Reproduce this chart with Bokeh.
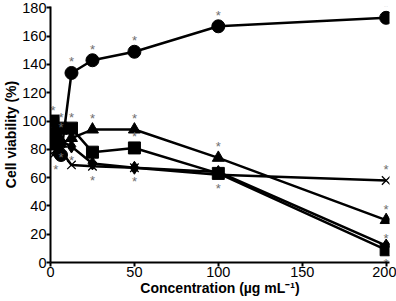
from bokeh.plotting import figure
from bokeh.models import Range1d, FixedTicker
from bokeh.embed import file_html
from bokeh.resources import INLINE
from bokeh.core.properties import value

conc = [1.56, 3.125, 6.25, 12.5, 25, 50, 100, 200]
circle_v = [88, 84, 76, 134, 143, 149, 167, 173]
triangle_v = [86, 82, 84, 88, 94, 94, 74, 30]
square_v = [100, 91, 95, 95, 78, 81, 63, 9]
diamond_v = [92, 88, 86, 82, 70, 67, 64, 12]
cross_v = [76, 80, 79, 69, 68, 67, 62, 58]

# significance stars (x, y value) drawn above / below points
star_up_x = [12.5, 25, 50, 100, 200, 6.25, 25, 50, 100, 200, 12.5, 50, 200, 200, 1.56, 6.25]
star_up_y = [134, 143, 149, 167, 173, 95, 94, 94, 74, 30, 95, 81, 9, 58, 100, 88]
star_dn_x = [200, 50, 100, 25, 3.125, 12.5, 6.25]
star_dn_y = [9, 67, 62, 68, 76, 82, 84]

p = figure(width=396, height=301, output_backend="svg", toolbar_location=None,
           x_range=Range1d(0, 202), y_range=Range1d(0, 181),
           min_border_left=44, min_border_right=7, min_border_top=6, min_border_bottom=39)
p.outline_line_color = None
p.xgrid.visible = False
p.ygrid.visible = False
p.background_fill_color = "white"
p.border_fill_color = "white"

lw = 2.5
for v in [cross_v, diamond_v, square_v, triangle_v, circle_v]:
    p.line(conc, v, line_color="black", line_width=lw)

p.scatter(conc, cross_v, marker="x", size=12, line_color="black", line_width=1.3)
p.scatter(conc, diamond_v, marker="diamond", size=13, fill_color="black", line_color="black")
p.scatter(conc, square_v, marker="square", size=12, fill_color="black", line_color="black")
p.scatter(conc, triangle_v, marker="triangle", size=12, fill_color="black", line_color="black")
p.scatter(conc, circle_v, marker="circle", size=13, fill_color="black", line_color="black")

p.text(star_up_x, star_up_y, text=["*"] * len(star_up_x), text_font=value("Liberation Sans"),
       text_font_size="13px", text_color="#6e6e6e", text_align="center",
       text_baseline="middle", y_offset=-11)
p.text(star_dn_x, star_dn_y, text=["*"] * len(star_dn_x), text_font=value("Liberation Sans"),
       text_font_size="13px", text_color="#6e6e6e", text_align="center",
       text_baseline="middle", y_offset=14)

p.xaxis.ticker = FixedTicker(ticks=[0, 50, 100, 150, 200])
p.yaxis.ticker = FixedTicker(ticks=list(range(0, 181, 20)))
for ax in (p.xaxis[0], p.yaxis[0]):
    ax.axis_line_width = 2
    ax.axis_line_color = "black"
    ax.major_tick_line_width = 2
    ax.major_tick_line_color = "black"
    ax.major_tick_out = 4
    ax.major_tick_in = 0
    ax.minor_tick_line_color = None
    ax.major_label_text_font = "Liberation Sans"
    ax.major_label_text_font_size = "14.5px"
    ax.major_label_text_color = "black"
    ax.major_label_standoff = 0
    ax.axis_label_text_font = "Liberation Sans"
    ax.axis_label_text_font_size = "14px"
    ax.axis_label_text_font_style = "bold"
    ax.axis_label_text_color = "black"
    ax.axis_label_standoff = 0

p.xaxis.axis_label = "Concentration (µg mL⁻¹)"
p.yaxis.axis_label = "Cell viability (%)"

open("out.html", "w").write(file_html(p, INLINE))
